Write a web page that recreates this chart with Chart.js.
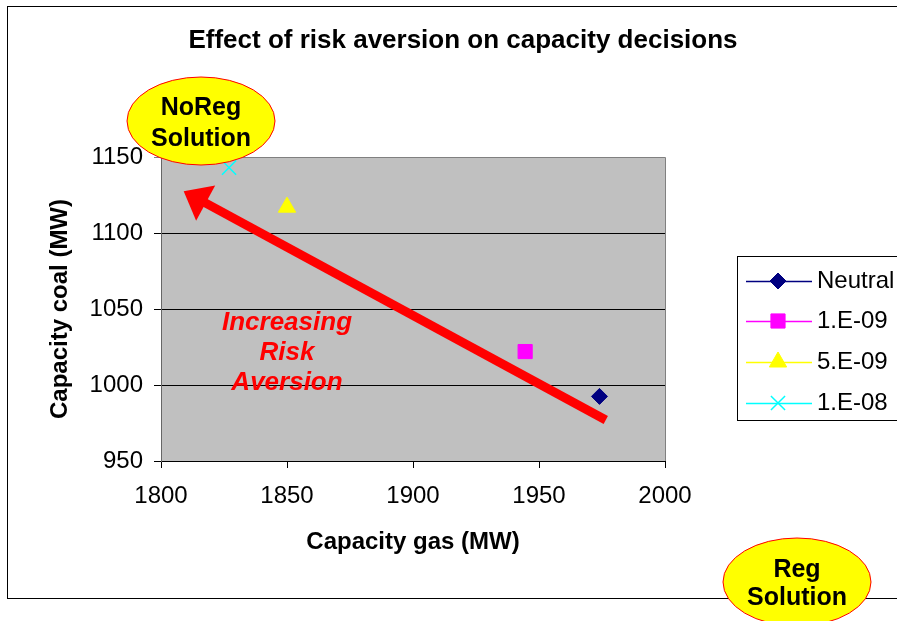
<!DOCTYPE html>
<html>
<head>
<meta charset="utf-8">
<script src="https://cdn.jsdelivr.net/npm/chart.js@4.4.0/dist/chart.umd.min.js"></script>
<style>
  html, body { margin: 0; padding: 0; background: #fff; }
  #wrap { width: 897px; height: 621px; position: relative; }
</style>
</head>
<body>
<div id="wrap"><canvas id="riskChart"></canvas></div>
<script>
const seriesNames = ['Neutral', '1.E-09', '5.E-09', '1.E-08'];
const gasCapacity = [1974, 1944.5, 1850, 1827];
const coalCapacity = [992.5, 1022, 1117, 1143];
const xTicks = [1800, 1850, 1900, 1950, 2000];
const yTicks = [950, 1000, 1050, 1100, 1150];
const arrowStart = [1976.5, 977];
const arrowEnd = [1809, 1127.5];

const family = '"Liberation Sans", Arial, sans-serif';
const markerStyles = [
  { color: '#000080', pointStyle: 'rectRot', radius: 8, border: 1 },
  { color: '#FF00FF', pointStyle: 'rect', radius: 10, border: 1 },
  { color: '#FFFF00', pointStyle: 'triangle', radius: 10, border: 1 },
  { color: '#00FFFF', pointStyle: 'crossRot', radius: 10, border: 1.5 }
];

function bubble(ctx, cx, cy, lines, baselines) {
  ctx.beginPath();
  ctx.ellipse(cx, cy, 74, 44, 0, 0, Math.PI * 2);
  ctx.fillStyle = '#FFFF00';
  ctx.fill();
  ctx.strokeStyle = '#FF0000';
  ctx.lineWidth = 1;
  ctx.stroke();
  ctx.fillStyle = '#000';
  ctx.font = 'bold 25px ' + family;
  ctx.textAlign = 'center';
  ctx.textBaseline = 'alphabetic';
  lines.forEach((t, i) => ctx.fillText(t, cx, baselines[i]));
}

const decorations = {
  id: 'decorations',
  beforeDraw(chart) {
    const { ctx, chartArea: a } = chart;
    ctx.save();
    ctx.fillStyle = '#fff';
    ctx.fillRect(0, 0, chart.width, chart.height);
    ctx.fillStyle = '#C0C0C0';
    ctx.fillRect(a.left, a.top, a.right - a.left, a.bottom - a.top);
    ctx.restore();
  },
  beforeDatasetsDraw(chart) {
    const { ctx, chartArea: a } = chart;
    ctx.save();
    ctx.strokeStyle = '#808080';
    ctx.lineWidth = 1;
    ctx.beginPath();
    ctx.moveTo(a.left, a.top + 0.5);
    ctx.lineTo(a.right + 0.5, a.top + 0.5);
    ctx.lineTo(a.right + 0.5, a.bottom);
    ctx.stroke();
    ctx.restore();
  },
  afterDraw(chart) {
    const { ctx } = chart;
    const xs = chart.scales.x, ys = chart.scales.y;
    ctx.save();

    // red arrow
    const x0 = xs.getPixelForValue(arrowStart[0]), y0 = ys.getPixelForValue(arrowStart[1]);
    const x1 = xs.getPixelForValue(arrowEnd[0]), y1 = ys.getPixelForValue(arrowEnd[1]);
    const ang = Math.atan2(y1 - y0, x1 - x0);
    const headLen = 25, headHalf = 20;
    const bx = x1 - headLen * Math.cos(ang), by = y1 - headLen * Math.sin(ang);
    ctx.strokeStyle = '#FF0000';
    ctx.fillStyle = '#FF0000';
    ctx.lineWidth = 9;
    ctx.lineCap = 'butt';
    ctx.beginPath();
    ctx.moveTo(x0, y0);
    ctx.lineTo(bx + 2 * Math.cos(ang), by + 2 * Math.sin(ang));
    ctx.stroke();
    ctx.beginPath();
    ctx.moveTo(x1, y1);
    ctx.lineTo(bx + headHalf * Math.sin(ang), by - headHalf * Math.cos(ang));
    ctx.lineTo(bx - headHalf * Math.sin(ang), by + headHalf * Math.cos(ang));
    ctx.closePath();
    ctx.fill();

    ctx.font = 'italic bold 26px ' + family;
    ctx.textAlign = 'center';
    ctx.textBaseline = 'alphabetic';
    ctx.fillText('Increasing', 287, 330);
    ctx.fillText('Risk', 287, 360);
    ctx.fillText('Aversion', 287, 390);

    // title
    ctx.fillStyle = '#000';
    ctx.font = 'bold 26px ' + family;
    ctx.fillText('Effect of risk aversion on capacity decisions', 463, 48);

    // legend
    ctx.strokeStyle = '#000';
    ctx.lineWidth = 1;
    ctx.strokeRect(737.5, 256.5, 200, 164);
    const rows = [281, 321, 362, 403];
    chart.data.datasets.forEach((ds, i) => {
      const y = rows[i];
      ctx.strokeStyle = ds.borderColor;
      ctx.fillStyle = ds.backgroundColor;
      ctx.lineWidth = 1.3;
      ctx.beginPath();
      ctx.moveTo(746, y + 0.5);
      ctx.lineTo(812, y + 0.5);
      ctx.stroke();
      ctx.lineWidth = ds.pointBorderWidth;
      Chart.helpers.drawPoint(ctx, {
        pointStyle: ds.pointStyle, radius: ds.pointRadius, rotation: 0, borderWidth: ds.pointBorderWidth
      }, 778, y);
      ctx.fillStyle = '#000';
      ctx.font = '24px ' + family;
      ctx.textAlign = 'left';
      ctx.textBaseline = 'middle';
      ctx.fillText(ds.label, 817, y);
    });

    // outer frame
    ctx.strokeStyle = '#000';
    ctx.lineWidth = 1;
    ctx.strokeRect(7.5, 6.5, 900, 592);

    bubble(ctx, 201, 121, ['NoReg', 'Solution'], [115, 146]);
    bubble(ctx, 797, 582, ['Reg', 'Solution'], [577, 605]);
    ctx.restore();
  }
};

new Chart(document.getElementById('riskChart'), {
  type: 'scatter',
  data: {
    datasets: seriesNames.map((name, i) => ({
      label: name,
      data: [{ x: gasCapacity[i], y: coalCapacity[i] }],
      backgroundColor: markerStyles[i].color,
      borderColor: markerStyles[i].color,
      pointStyle: markerStyles[i].pointStyle,
      pointRadius: markerStyles[i].radius,
      pointBorderWidth: markerStyles[i].border,
      showLine: false
    }))
  },
  options: {
    responsive: true,
    maintainAspectRatio: false,
    animation: false,
    layout: { padding: { left: 0, top: 157, right: 232, bottom: 0 } },
    plugins: {
      legend: { display: false },
      tooltip: { enabled: false },
      title: { display: false }
    },
    scales: {
      x: {
        type: 'linear',
        min: 1800,
        max: 2000,
        afterBuildTicks: s => { s.ticks = xTicks.map(v => ({ value: v })); },
        afterFit: s => { s.height = 160; },
        grid: { drawOnChartArea: false, color: '#000', tickLength: 7 },
        border: { color: '#000', width: 1 },
        ticks: {
          color: '#000', padding: 14, maxRotation: 0, autoSkip: false,
          font: { family, size: 24 }, callback: v => String(v)
        },
        title: {
          display: true, text: 'Capacity gas (MW)', color: '#000',
          font: { family, size: 24, weight: 'bold' }, padding: { top: 0, bottom: 64 }
        }
      },
      y: {
        type: 'linear',
        min: 950,
        max: 1150,
        afterBuildTicks: s => { s.ticks = yTicks.map(v => ({ value: v })); },
        afterFit: s => { s.width = 161; },
        grid: {
          color: c => (c.tick && c.tick.value === 1150 ? '#808080' : '#000'),
          tickLength: 7
        },
        border: { color: '#666', width: 1 },
        ticks: { color: '#000', padding: 11, font: { family, size: 24 }, callback: v => String(v) },
        title: {
          display: true, text: 'Capacity coal (MW)', color: '#000',
          font: { family, size: 24, weight: 'bold' }, padding: { top: 46, bottom: 0 }
        }
      }
    }
  },
  plugins: [decorations]
});
</script>
</body>
</html>
